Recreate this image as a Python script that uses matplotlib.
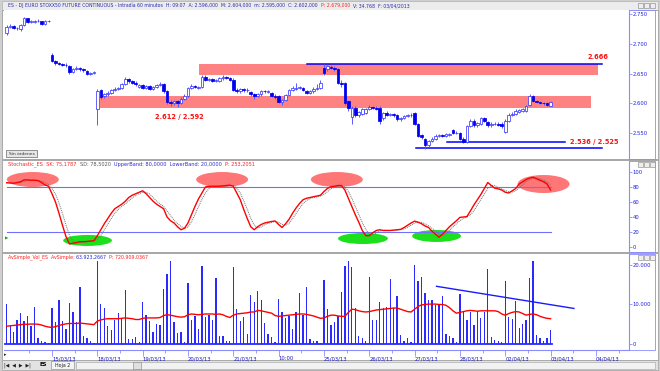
import numpy as np
import pandas as pd
import matplotlib
matplotlib.use('Agg')
import matplotlib.pyplot as plt
from matplotlib.patches import Ellipse, Rectangle
from matplotlib.ticker import FuncFormatter

W, H = 660, 371

# ---- hourly bars, 13 per session (14/03/13 .. 03/04/13) ----
opens = [2718, 2729, 2730, 2726, 2724, 2732, 2743, 2737, 2737, 2738, 2738, 2733, 2738,
         2682, 2671, 2668, 2666, 2665, 2662, 2652, 2658, 2659, 2657, 2655, 2649, 2651,
         2590, 2622, 2612, 2615, 2618, 2622, 2624, 2626, 2633, 2641, 2637, 2635, 2628,
         2631, 2626, 2629, 2624, 2628, 2631, 2633, 2620, 2603, 2600, 2604, 2601, 2608,
         2612, 2626, 2629, 2626, 2627, 2645, 2640, 2641, 2638, 2638, 2642, 2644, 2643,
         2640, 2622, 2621, 2624, 2622, 2619, 2615, 2613, 2615, 2621, 2619, 2617, 2613,
         2612, 2602, 2606, 2614, 2622, 2624, 2626, 2626, 2621, 2618, 2620, 2624, 2626,
         2660, 2657, 2661, 2660, 2658, 2635, 2634, 2604, 2577, 2593, 2580, 2583, 2584,
         2591, 2594, 2593, 2593, 2576, 2584, 2581, 2582, 2580, 2573, 2575, 2579, 2580,
         2584, 2565, 2547, 2540, 2530, 2537, 2541, 2545, 2547, 2546, 2547, 2555, 2550,
         2550, 2541, 2536, 2562, 2570, 2563, 2566, 2575, 2569, 2563, 2565, 2566, 2566,
         2552, 2571, 2581, 2583, 2586, 2587, 2588, 2598, 2612, 2604, 2602, 2601, 2600,
         2596]
closes = [2729, 2730, 2726, 2726, 2732, 2743, 2737, 2737, 2738, 2738, 2733, 2738, 2739,
          2671, 2668, 2666, 2665, 2664, 2652, 2658, 2659, 2657, 2656, 2649, 2651, 2653,
          2620, 2611, 2615, 2618, 2622, 2624, 2626, 2633, 2641, 2637, 2635, 2632, 2631,
          2626, 2629, 2624, 2628, 2631, 2633, 2620, 2603, 2600, 2604, 2600, 2608, 2612,
          2626, 2629, 2628, 2627, 2645, 2640, 2641, 2638, 2639, 2642, 2644, 2643, 2640,
          2622, 2620, 2624, 2622, 2623, 2615, 2613, 2616, 2621, 2620, 2620, 2613, 2610,
          2602, 2605, 2614, 2622, 2625, 2626, 2627, 2622, 2618, 2620, 2624, 2625, 2635,
          2651, 2662, 2660, 2658, 2635, 2633, 2601, 2592, 2593, 2580, 2586, 2590, 2591,
          2594, 2593, 2591, 2570, 2584, 2581, 2582, 2580, 2573, 2575, 2579, 2580, 2581,
          2565, 2546, 2543, 2530, 2537, 2541, 2545, 2547, 2546, 2548, 2549, 2550, 2551,
          2540, 2535, 2562, 2570, 2563, 2567, 2575, 2570, 2563, 2565, 2566, 2564, 2562,
          2571, 2581, 2583, 2587, 2589, 2590, 2596, 2612, 2604, 2602, 2601, 2600, 2598,
          2602]
highs = [2731, 2733, 2731, 2729, 2734, 2745, 2744, 2740, 2740, 2741, 2739, 2740, 2740,
         2685, 2673, 2670, 2668, 2667, 2664, 2660, 2662, 2661, 2659, 2656, 2653, 2655,
         2624, 2624, 2618, 2620, 2624, 2627, 2628, 2635, 2644, 2643, 2639, 2637, 2633,
         2633, 2631, 2631, 2630, 2633, 2636, 2635, 2622, 2606, 2606, 2606, 2610, 2615,
         2628, 2632, 2631, 2629, 2648, 2647, 2643, 2643, 2641, 2644, 2647, 2646, 2645,
         2642, 2625, 2626, 2626, 2625, 2621, 2617, 2618, 2623, 2623, 2622, 2619, 2615,
         2614, 2607, 2616, 2624, 2630, 2634, 2630, 2628, 2623, 2622, 2628, 2632, 2640,
         2666, 2665, 2664, 2662, 2659, 2640, 2636, 2606, 2596, 2595, 2588, 2592, 2593,
         2597, 2596, 2595, 2595, 2586, 2587, 2584, 2584, 2582, 2577, 2581, 2583, 2584,
         2586, 2567, 2549, 2542, 2539, 2543, 2548, 2549, 2549, 2550, 2551, 2557, 2553,
         2552, 2543, 2564, 2574, 2573, 2569, 2578, 2578, 2571, 2568, 2568, 2568, 2568,
         2573, 2584, 2586, 2590, 2591, 2593, 2598, 2616, 2614, 2606, 2604, 2603, 2602,
         2604]
lows = [2715, 2727, 2724, 2723, 2722, 2730, 2735, 2735, 2735, 2736, 2732, 2732, 2737,
        2669, 2665, 2664, 2662, 2661, 2650, 2651, 2656, 2655, 2653, 2647, 2648, 2650,
        2563, 2607, 2609, 2613, 2616, 2620, 2622, 2624, 2631, 2635, 2632, 2629, 2625,
        2624, 2624, 2622, 2622, 2626, 2629, 2618, 2599, 2596, 2597, 2594, 2599, 2606,
        2610, 2624, 2625, 2624, 2625, 2638, 2638, 2636, 2636, 2636, 2640, 2641, 2638,
        2620, 2617, 2618, 2619, 2619, 2612, 2608, 2611, 2613, 2617, 2617, 2611, 2608,
        2600, 2598, 2604, 2612, 2620, 2622, 2624, 2620, 2616, 2616, 2618, 2622, 2624,
        2648, 2655, 2657, 2655, 2633, 2628, 2598, 2588, 2565, 2577, 2578, 2581, 2582,
        2589, 2590, 2589, 2565, 2572, 2579, 2579, 2577, 2571, 2571, 2573, 2577, 2578,
        2563, 2544, 2540, 2524, 2527, 2535, 2539, 2543, 2544, 2544, 2546, 2548, 2548,
        2538, 2533, 2534, 2560, 2561, 2561, 2564, 2568, 2560, 2561, 2563, 2562, 2559,
        2550, 2569, 2579, 2581, 2584, 2585, 2586, 2596, 2602, 2600, 2599, 2598, 2596,
        2595]

# volume in thousands of contracts
volume_k = [10.0, 4.5, 3.0, 6.2, 7.8, 5.7, 7.0, 4.5, 9.3, 1.5, 0.8, 0.5, 0.3,
            9.1, 5.6, 11.2, 5.9, 3.8, 10.5, 8.1, 5.6, 14.4, 1.9, 1.5, 0.8, 0.3,
            20.9, 10.2, 9.1, 4.6, 3.5, 6.1, 7.8, 6.4, 13.6, 1.3, 1.3, 1.7, 0.5,
            10.6, 7.4, 5.9, 3.0, 5.1, 4.7, 14.0, 17.6, 20.9, 5.5, 2.7, 3.0, 0.5,
            15.4, 6.2, 7.0, 3.8, 19.7, 6.8, 7.3, 6.2, 16.7, 1.9, 2.1, 0.8, 0.8,
            19.4, 8.9, 5.9, 6.8, 2.5, 12.5, 10.6, 13.5, 11.1, 5.3, 2.6, 1.7, 0.5,
            11.5, 8.1, 6.6, 7.1, 3.9, 8.1, 12.8, 7.3, 14.4, 1.3, 0.7, 0.7, 0.3,
            16.3, 8.9, 4.9, 5.5, 7.0, 13.2, 19.7, 20.9, 19.6, 9.1, 1.9, 1.5, 0.7,
            16.9, 6.1, 6.1, 10.6, 9.1, 9.3, 16.5, 9.1, 12.1, 2.2, 0.8, 1.4, 0.5,
            20.1, 16.0, 16.9, 12.8, 11.1, 11.1, 9.8, 9.8, 12.1, 2.5, 1.9, 1.5, 0.5,
            12.7, 8.3, 6.1, 8.1, 4.9, 8.3, 6.6, 8.1, 18.9, 1.7, 1.0, 0.8, 0.5,
            15.9, 6.8, 6.4, 11.0, 4.1, 5.1, 6.1, 16.7, 20.9, 2.2, 1.5, 0.8, 1.4,
            3.5]
vol_avg_k = [4.5, 4.6, 4.7, 4.8, 4.9, 5.0, 5.0, 5.05, 5.05, 5.0, 4.8, 4.5, 4.3,
             4.2, 4.4, 4.7, 4.9, 5.1, 5.2, 5.2, 5.2, 5.3, 5.2, 5.1, 5.0, 4.9,
             5.8, 6.1, 6.3, 6.4, 6.4, 6.4, 6.4, 6.5, 6.6, 6.5, 6.4, 6.2, 6.2,
             6.5, 6.6, 6.6, 6.6, 6.6, 6.7, 7.2, 7.4, 7.3, 7.1, 6.9, 6.8, 6.9,
             7.4, 7.6, 7.5, 7.4, 7.5, 7.6, 7.6, 7.6, 7.5, 7.6, 7.4, 7.0, 6.7,
             7.3, 7.6, 7.7, 7.8, 7.9, 8.1, 8.1, 8.5, 8.4, 8.2, 8.0, 7.8, 7.2,
             7.0, 7.1, 7.2, 7.3, 7.4, 7.5, 7.6, 7.6, 7.5, 7.3, 7.1, 6.8, 6.5,
             6.6, 7.0, 7.3, 7.3, 7.1, 7.0, 7.0, 8.0, 8.8, 8.7, 8.4, 8.2, 8.1,
             8.2, 8.4, 8.6, 8.7, 8.8, 8.9, 9.0, 9.1, 9.1, 8.8, 8.5, 8.2, 8.1,
             8.8, 9.5, 9.9, 10.0, 10.1, 10.1, 10.1, 10.0, 10.0, 9.8, 9.2, 8.4, 7.8,
             8.0, 8.2, 8.4, 8.5, 8.4, 8.3, 8.4, 8.4, 8.4, 8.4, 8.4, 8.2, 7.6,
             7.3, 7.7, 8.0, 8.2, 8.1, 7.7, 7.3, 7.5, 7.6, 7.4, 7.0, 6.7, 6.5,
             6.4]
stoch_k = [85.7, 85.3, 85, 86, 87, 89.5, 89.5, 89, 89, 88.5, 86, 82.7, 81,
           71, 60, 45, 29, 14, 4, 5, 6, 7, 7, 7.3, 8, 8.3,
           15, 23, 31, 38, 45, 51, 54, 57, 61, 66, 69, 71, 73,
           75, 71, 66, 61, 57, 54, 51, 40, 35, 32, 27, 23, 25,
           32, 43, 54, 64, 72, 80, 81, 81, 81, 81, 81.5, 82, 82.5,
           81, 72, 63, 50, 38, 27, 23, 27, 30, 32, 33, 34, 34.7,
           30, 26, 31, 37, 45, 52, 58, 63, 65, 66, 67, 68, 69,
           74, 78, 80.5, 81, 82, 82, 76, 65, 54, 43, 33, 22, 15,
           15, 19, 22, 23, 22, 22, 22, 22.5, 23, 23.5, 26, 29, 32,
           34.5, 33, 31, 28, 26, 21, 17, 13, 17, 22, 27, 31, 35,
           39.5, 40, 40.5, 48, 56, 63, 70, 78, 86, 82, 78.5, 77.5, 76,
           73, 72, 75, 78, 84, 87, 90, 92, 93, 91, 89, 87, 84,
           76]

# axis labels
date_ticks = [13, 26, 39, 52, 65, 78, 91, 104, 117, 130, 143, 156, 169]
date_labels = ['15/03/13', '18/03/13', '19/03/13', '20/03/13', '21/03/13', '10:00',
               '25/03/13', '26/03/13', '27/03/13', '28/03/13', '02/04/13', '03/04/13', '04/04/13']

# drawn studies: (price_low, price_high, bar_from, bar_to)
zones = [(2648, 2666, 55.1, 169.6), (2592, 2612, 26.8, 167.6)]
levels = [(2666, 86.2, 170.7), (2536, 126.3, 160.1), (2525, 117.4, 170.7)]
red_marks = [(7.5, 90, 14.9, 20), (61.8, 90, 14.9, 20), (94.7, 90, 14.9, 20), (154, 84, 14.9, 24)]
green_marks = [(23.2, 8.7, 14, 14.7), (102.2, 11.3, 14.3, 14.7), (123.3, 14.7, 14, 16)]
vol_trend_x = [123.3, 162.7]
vol_trend_k = [14.6, 9.0]

AXBLUE = '#8c8cff'
LBL = '#2020e0'

idx = np.arange(len(closes))
o = np.array(opens, float)
c = np.array(closes, float)
up = c >= o
kser = pd.Series(stoch_k)
stoch_d = kser.rolling(3, min_periods=1).mean()   # %D = 3-bar average of %K

fig = plt.figure(figsize=(6.6, 3.71), dpi=100, facecolor='#cfcfcf')
rend = fig.canvas.get_renderer()


def frect(x0, y0, x1, y1, z=5, **kw):
    fig.add_artist(Rectangle((x0 / W, 1 - y1 / H), (x1 - x0) / W, (y1 - y0) / H,
                             transform=fig.transFigure, zorder=z, **kw))


def px_axes(x0, y0, x1, y1):
    a = fig.add_axes([x0 / W, 1 - y1 / H, (x1 - x0) / W, (y1 - y0) / H])
    a.set_facecolor('white')
    for s in ['top', 'left', 'bottom']:
        a.spines[s].set_visible(False)
    a.spines['right'].set_color(AXBLUE)
    a.spines['right'].set_linewidth(0.8)
    a.yaxis.tick_right()
    a.tick_params(axis='y', direction='out', length=2, width=0.6, color=AXBLUE,
                  labelcolor=LBL, labelsize=3.8, pad=0.5)
    a.set_xlim(-0.77, 178.5)
    return a


def header(x, y, parts, size=3.6):
    for s, col in parts:
        t = fig.text(x / W, 1 - y / H, s, color=col, fontsize=size, va='center', ha='left')
        x += t.get_window_extent(rend).width


def win_buttons(y):
    for x in [638, 644, 650]:
        frect(x, y, x + 5, y + 5, facecolor='#eeeeee', edgecolor='#808080', lw=0.4)


# frame pieces (background ones behind the axes)
frect(2, 1, 658, 10, z=-10, facecolor='#ececec', edgecolor='#b0b0b0', lw=0.5)
frect(2, 10, 658, 360, z=-10, facecolor='white', edgecolor='#a0a0a0', lw=0.6)
frect(2, 360, 658, 370, z=-10, facecolor='#e2e2e2', edgecolor='#a0a0a0', lw=0.5)
frect(2, 159, 658, 161, facecolor='#a8a8a8', lw=0)
frect(2, 252, 658, 254, facecolor='#a8a8a8', lw=0)
for y0, y1 in [(10, 159), (161, 252), (254, 350)]:
    frect(629, y0, 655, y1, facecolor='none', edgecolor=AXBLUE, lw=0.6)

fmt_thousands = FuncFormatter(lambda v, p: f'{v:,.0f}'.replace(',', '.'))

# ---- price panel ----
ax1 = px_axes(4, 10, 629, 159)
ax1.set_ylim(2506.7, 2756.7)
ax1.set_yticks([2550, 2600, 2650, 2700, 2750])
ax1.yaxis.set_major_formatter(fmt_thousands)
ax1.set_xticks([])
for lo, hi, b0, b1 in zones:
    ax1.add_patch(Rectangle((b0, lo), b1 - b0, hi - lo, facecolor='#ff8282', edgecolor='none', zorder=1))
for lvl, b0, b1 in levels:
    ax1.plot([b0, b1], [lvl, lvl], color='#0000ff', lw=1.1, zorder=2)
ax1.vlines(idx, lows, highs, color='#5a5aff', lw=0.7, zorder=3)
ax1.bar(idx[up], np.maximum(c - o, 0.8)[up], bottom=o[up], width=0.75,
        facecolor='white', edgecolor='#3a3aff', lw=0.55, zorder=4)
ax1.bar(idx[~up], np.maximum(o - c, 0.8)[~up], bottom=c[~up], width=0.75,
        facecolor='#0000f0', edgecolor='#0000f0', lw=0.55, zorder=4)
ax1.text(169.5, 2678, '2.666', color='#ff1010', fontsize=4.8, fontweight='bold', ha='center', va='center')
ax1.text(49.5, 2578, '2.612 / 2.592', color='#ff1010', fontsize=4.8, fontweight='bold', ha='center', va='center')
ax1.text(161.5, 2535, '2.536 / 2.525', color='#ff1010', fontsize=4.8, fontweight='bold', ha='left', va='center')

frect(6, 150, 37, 157, facecolor='#e6e6e6', edgecolor='#6a6a6a', lw=0.5)
fig.text(21.5 / W, 1 - 153.5 / H, 'Sin órdenes', fontsize=3.2, color='#333333', ha='center', va='center', zorder=6)

# ---- stochastic panel ----
ax2 = px_axes(4, 161, 629, 252)
ax2.set_ylim(-6.7, 114.7)
ax2.set_yticks([0, 20, 40, 60, 80, 100])
ax2.set_xticks([])
for x, y, w, h in red_marks:
    ax2.add_patch(Ellipse((x, y), w, h, facecolor='#ff7676', edgecolor='none', zorder=1))
for x, y, w, h in green_marks:
    ax2.add_patch(Ellipse((x, y), w, h, facecolor='#1de01d', edgecolor='none', zorder=1))
ax2.plot([0, 156], [80, 80], color='#7070ff', lw=0.8, zorder=2)
ax2.plot([0, 156], [20, 20], color='#7070ff', lw=0.8, zorder=2)
ax2.plot(idx, stoch_d, color='#6f6f6f', lw=0.7, ls=(0, (1, 1)), zorder=3)
ax2.plot(idx, stoch_k, color='#ff0000', lw=1.0, zorder=4)
fig.text(5 / W, 1 - 239 / H, '▶', color='#00b000', fontsize=3.2, ha='left', va='center')

# ---- volume panel ----
ax3 = px_axes(4, 254, 629, 350)
ax3.set_ylim(-1.52, 22.78)
ax3.set_yticks([0, 10, 20])
ax3.yaxis.set_major_formatter(FuncFormatter(lambda v, p: f'{v * 1000:,.0f}'.replace(',', '.')))
ax3.bar(idx, volume_k, width=0.38, color='#2a2aff', zorder=2)
ax3.plot([-0.4, 156.4], [0, 0], color='#2a2aff', lw=1.3, zorder=2)
ax3.plot(idx, vol_avg_k, color='#ff0000', lw=1.0, zorder=3)
ax3.plot(vol_trend_x, vol_trend_k, color='#1a1aff', lw=1.0, zorder=3)
ax3.spines['bottom'].set_visible(True)
ax3.spines['bottom'].set_color(AXBLUE)
ax3.spines['bottom'].set_linewidth(0.8)
ax3.set_xticks(date_ticks)
ax3.set_xticklabels(date_labels)
ax3.set_xticks([t - 6.5 for t in date_ticks] + [175.5], minor=True)
ax3.tick_params(axis='x', which='major', direction='out', length=4, width=0.6, color=AXBLUE,
                labelcolor='#1818c8', labelsize=3.8, pad=0.6)
ax3.tick_params(axis='x', which='minor', direction='out', length=2, width=0.6, color=AXBLUE)
for lbl in ax3.get_xticklabels():
    lbl.set_ha('left')

# ---- headers and window chrome ----
header(8, 5.5, [('ES - DJ EURO STOXX50 FUTURE CONTINUOUS - Intradía 60 minutos  H: 09:07  '
                 'A: 2.596,000  M: 2.604,000  m: 2.595,000  C: 2.602,000  ', '#2a2ab0'),
                ('P: 2.679,000  ', '#ff2020'),
                ('V: 34.768  F: 03/04/2013', '#2a2ab0')], size=3.35)
header(8, 164.5, [('Stochastic_ES  SK: 75,1787  ', '#ff2020'),
                  ('SD: 78,5020  ', '#555555'),
                  ('UpperBand: 80,0000  LowerBand: 20,0000  ', '#2a2ad0'),
                  ('P: 253,2051', '#ff2020')])
header(8, 257, [('AvSimple_Vol_ES  AvSimple: ', '#ff2020'),
                ('63.923,2667  ', '#2a2ad0'),
                ('P: 720.909,0367', '#ff2020')], size=3.45)
win_buttons(3)
win_buttons(161.5)
win_buttons(254.5)
fig.text(4 / W, 1 - 355 / H, '▸', fontsize=3.5, color='#202020', va='center')

# tab bar
fig.text(4 / W, 1 - 365 / H, '|◀  ◀  ▶  ▶|', fontsize=3.4, color='#202020', va='center')
fig.text(40 / W, 1 - 365 / H, 'ES', fontsize=3.8, color='#000000', fontweight='bold', va='center')
frect(51, 361, 74, 369, facecolor='#f4f4f4', edgecolor='#808080', lw=0.4)
fig.text(55 / W, 1 - 365 / H, 'Hoja 2', fontsize=3.4, color='#202020', va='center', zorder=6)
frect(76, 361.5, 655, 368.5, facecolor='#f2f2f2', edgecolor='#a0a0a0', lw=0.4)
frect(133, 361.5, 141, 368.5, facecolor='#e0e0e0', edgecolor='#808080', lw=0.4)

fig.savefig('out.png', dpi=100, facecolor=fig.get_facecolor())
